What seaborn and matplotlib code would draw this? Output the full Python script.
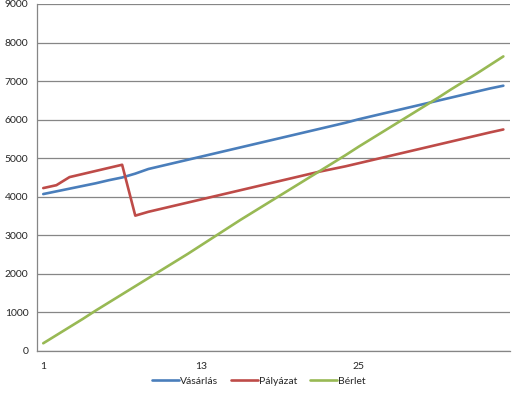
import numpy as np
import pandas as pd
import matplotlib.pyplot as plt
from matplotlib.ticker import FixedLocator
import seaborn as sns

# hónapok (1..36)
honap = list(range(1, 37))

vasarlas = [4070, 4140, 4210, 4280, 4350, 4430, 4500, 4600, 4720, 4800,
            4880, 4960, 5040, 5120, 5200, 5280, 5360, 5440, 5520, 5600,
            5680, 5760, 5840, 5920, 6010, 6090, 6170, 6250, 6330, 6410,
            6490, 6570, 6650, 6730, 6810, 6880]

palyazat = [4225, 4300, 4510, 4590, 4670, 4750, 4830, 3510, 3610, 3690,
            3770, 3850, 3930, 4010, 4090, 4170, 4250, 4330, 4410, 4490,
            4570, 4650, 4720, 4790, 4870, 4950, 5030, 5110, 5190, 5270,
            5350, 5430, 5510, 5590, 5670, 5745]

berlet = [200, 410, 620, 830, 1050, 1260, 1470, 1680, 1890, 2100,
          2310, 2520, 2740, 2960, 3180, 3400, 3610, 3820, 4030, 4240,
          4450, 4660, 4870, 5080, 5300, 5510, 5720, 5930, 6140, 6350,
          6560, 6780, 6990, 7200, 7420, 7640]

sorozatok = ["Vásárlás", "Pályázat", "Bérlet"]
szinek = ["#4A7EBB", "#BE4B48", "#98B954"]

df = pd.DataFrame({
    "honap": honap * 3,
    "ertek": vasarlas + palyazat + berlet,
    "sorozat": np.repeat(sorozatok, len(honap)),
})

sns.set_style("white")
plt.rcParams["font.family"] = ["Lato", "DejaVu Sans"]

fig = plt.figure(figsize=(5.13, 3.97), dpi=100)
ax = fig.add_axes([0.0715, 0.1159, 0.9225, 0.8741])

sns.lineplot(data=df, x="honap", y="ertek", hue="sorozat", hue_order=sorozatok,
             palette=szinek, linewidth=1.9, ax=ax, legend=True)

szurke = "#868686"
ax.set_xlim(0.5, 36.5)
ax.set_ylim(0, 9000)
ax.set_yticks(range(0, 9001, 1000))
ax.grid(axis="y", color=szurke, linewidth=0.9)
ax.set_axisbelow(True)

ax.set_xticks([1, 13, 25])
ax.xaxis.set_minor_locator(FixedLocator(np.arange(0.5, 37, 1)))
ax.tick_params(axis="x", which="major", length=0, pad=8, labelsize=7.5)
ax.tick_params(axis="x", which="minor", length=4, color=szurke, width=0.9)
ax.tick_params(axis="y", which="major", length=4, color=szurke, width=0.9,
               labelsize=7.5, pad=2)

for s in ["top", "right"]:
    ax.spines[s].set_visible(False)
for s in ["left", "bottom"]:
    ax.spines[s].set_color(szurke)
    ax.spines[s].set_linewidth(0.9)

ax.set_xlabel("")
ax.set_ylabel("")

ax.legend_.remove()
handles, labels = ax.get_legend_handles_labels()
fig.legend(handles, labels, loc="center", bbox_to_anchor=(0.505, 0.04),
           ncol=3, frameon=False, fontsize=7.5, handlelength=2.6,
           handletextpad=0.1, columnspacing=1.2)

fig.savefig("out.png", dpi=100, facecolor="white")
